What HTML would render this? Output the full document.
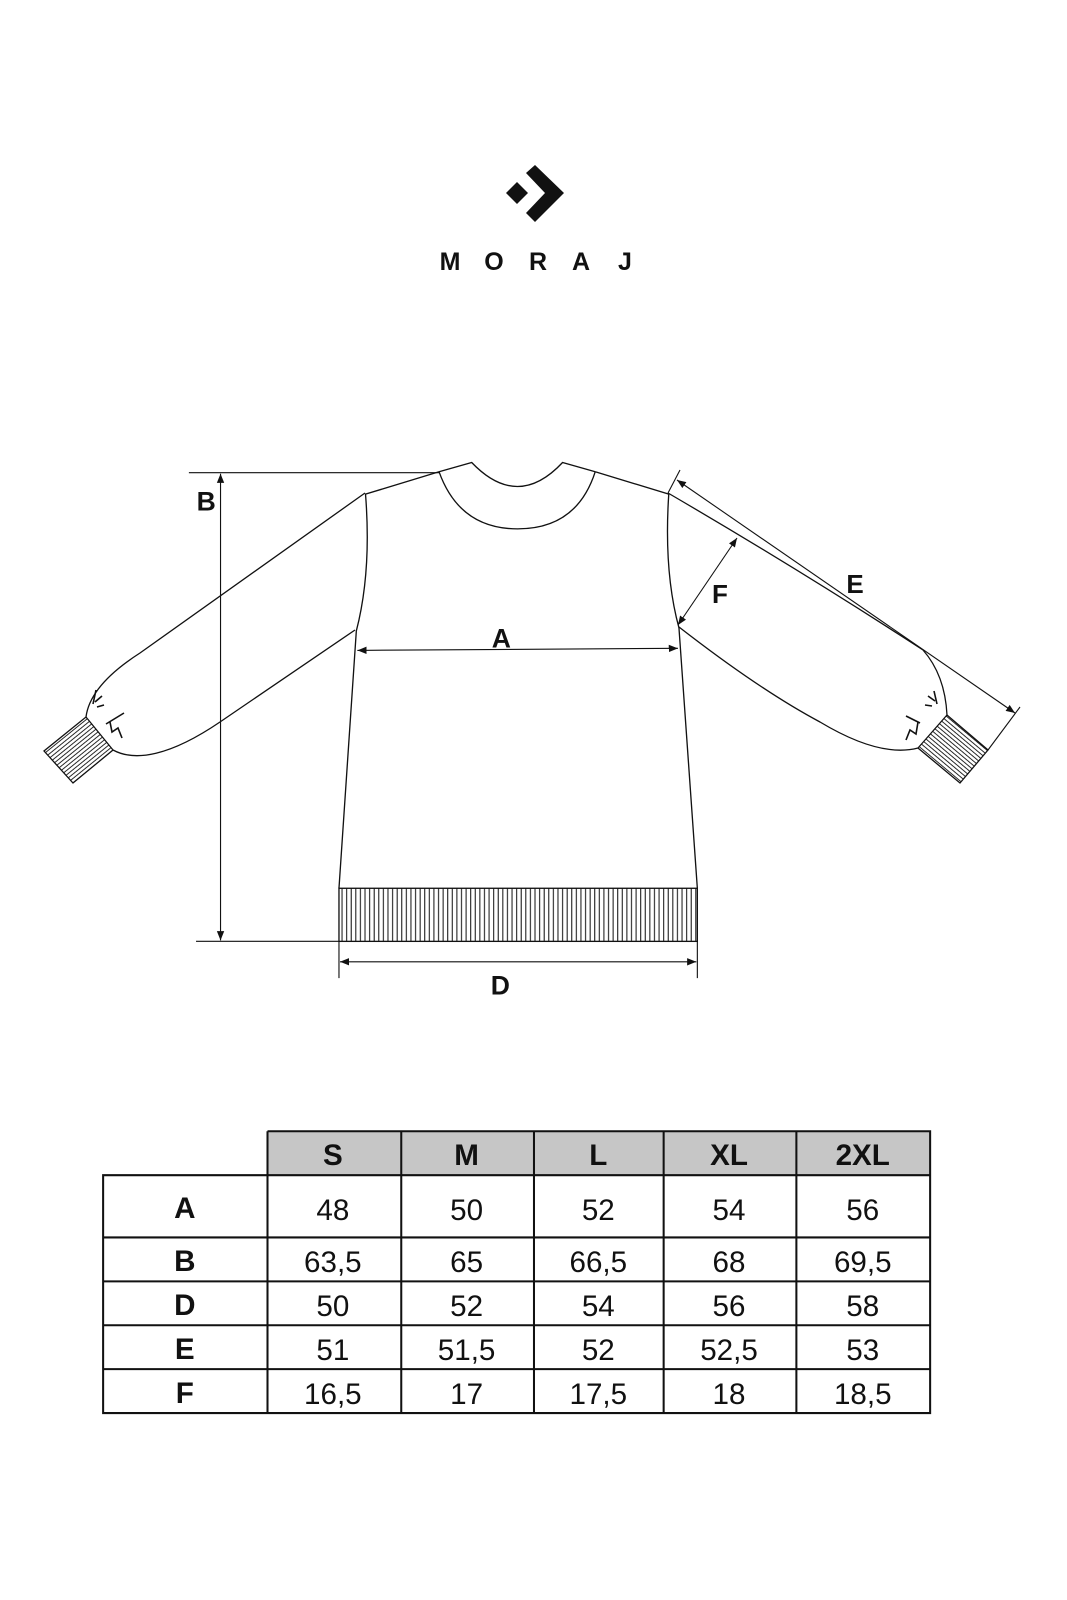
<!DOCTYPE html>
<html><head><meta charset="utf-8"><style>
html,body{margin:0;padding:0;background:#fff;}
svg{display:block;}
text{font-family:"Liberation Sans",Arial,sans-serif;}
</style></head><body>
<svg width="1067" height="1600" viewBox="0 0 1067 1600" xmlns="http://www.w3.org/2000/svg">
<defs>
<marker id="ar" viewBox="0 0 10 10" refX="10" refY="5" markerWidth="9" markerHeight="9" orient="auto-start-reverse" markerUnits="userSpaceOnUse"><path d="M0,1 L10,5 L0,9 Z" fill="#111"/></marker>
<pattern id="rib" width="4.5" height="10" patternUnits="userSpaceOnUse"><line x1="2" y1="0" x2="2" y2="10" stroke="#111" stroke-width="1"/></pattern>
<pattern id="ribL" width="10" height="3.4" patternUnits="userSpaceOnUse" patternTransform="rotate(-39)"><line x1="0" y1="1.5" x2="10" y2="1.5" stroke="#111" stroke-width="0.9"/></pattern>
<pattern id="ribR" width="10" height="3.4" patternUnits="userSpaceOnUse" patternTransform="rotate(40)"><line x1="0" y1="1.5" x2="10" y2="1.5" stroke="#111" stroke-width="0.9"/></pattern>
</defs>
<!-- logo -->
<polygon points="517,182 528,193 517,204 506,193" fill="#111"/>
<polygon points="535,165 564,193 535,222 526,213 545,193 526,173" fill="#111"/>
<g font-size="25" font-weight="bold" text-anchor="middle" fill="#111">
<text x="450" y="270">M</text><text x="494" y="270">O</text><text x="538" y="270">R</text><text x="581" y="270">A</text><text x="625" y="270">J</text>
</g>
<!-- sleeves (real coords) -->
<g fill="none" stroke="#111" stroke-width="1.3">
<path d="M365,493 L140,653 Q90,685 86,717"/>
<path d="M355,630 L220,722 C170,756 135,762 113,750"/>
<polygon points="86,717 113,750 73,783 44,751" fill="url(#ribL)"/>
<path d="M668,493 Q800,570 923,650 Q945,675 947,715"/>
<path d="M679,627 Q760,690 820,722 Q880,758 918,748"/>
<polygon points="918,748 947,715 988,750 960,783" fill="url(#ribR)"/>
</g>
<g stroke="#111" stroke-width="1.6" fill="none">
<path d="M93,704 L96,690 M95,702 L102,696 M97,707 L104,705"/>
<path d="M106,724 L124,713 M110,722 L112,732 L118,728 L122,738"/>
<path d="M937,704 L934,691 M935,701 L928,696 M932,706 L925,705"/>
<path d="M920,723 L906,716 M918,722 L916,734 L910,730 L906,740"/>
</g>
<!-- E / F dims (real coords) -->
<g stroke="#111" stroke-width="1.1" fill="none">
<line x1="668" y1="493" x2="680" y2="470"/>
<line x1="988" y1="750" x2="1020" y2="707"/>
<line x1="677" y1="480" x2="1015" y2="713" marker-start="url(#ar)" marker-end="url(#ar)"/>
<line x1="678" y1="625" x2="737" y2="538" marker-start="url(#ar)" marker-end="url(#ar)"/>
</g>
<g font-size="26" font-weight="bold" fill="#111" text-anchor="middle">
<text x="855" y="593">E</text>
<text x="720" y="603">F</text>
</g>
<!-- scaled group -->
<g transform="scale(1.021)">
<g fill="none" stroke="#111" stroke-width="1.3">
<path d="M430,462 L462,453 Q507,500 551,453 L583,462"/>
<path d="M430,462 Q450,518 507,518 Q565,518 583,462"/>
<path d="M430,462 L358,484 Q364,560 349,618 L332,870"/>
<path d="M583,462 L655,484 Q650,560 665,615 L683,870"/>
<rect x="332" y="870" width="351" height="52" fill="url(#rib)"/>
</g>
<g stroke="#111" stroke-width="1.1" fill="none">
<line x1="185" y1="463" x2="430" y2="463"/>
<line x1="192" y1="922" x2="332" y2="922"/>
<line x1="216" y1="464" x2="216" y2="921" marker-start="url(#ar)" marker-end="url(#ar)"/>
<line x1="350" y1="637" x2="664" y2="635" marker-start="url(#ar)" marker-end="url(#ar)"/>
<line x1="332" y1="922" x2="332" y2="958"/>
<line x1="683" y1="922" x2="683" y2="958"/>
<line x1="333" y1="942" x2="682" y2="942" marker-start="url(#ar)" marker-end="url(#ar)"/>
</g>
<g font-size="26" font-weight="bold" fill="#111" text-anchor="middle">
<text x="202" y="500">B</text>
<text x="491" y="634">A</text>
<text x="490" y="974">D</text>
</g>
<rect x="262" y="1108" width="649" height="43" fill="#c6c6c6"/>
<g stroke="#111" stroke-width="2" fill="none">
<path d="M262,1108 H911 V1384 H101 V1151 H911"/>
<path d="M262,1108 V1384 M393,1108 V1384 M523,1108 V1384 M650,1108 V1384 M780,1108 V1384"/>
<path d="M101,1212 H911 M101,1255 H911 M101,1298 H911 M101,1341 H911"/>
</g>
<g font-size="29" fill="#111" text-anchor="middle">
<g font-weight="bold">
<text x="326" y="1141">S</text><text x="457" y="1141">M</text><text x="586" y="1141">L</text><text x="714" y="1141">XL</text><text x="845" y="1141">2XL</text>
<text x="181" y="1193">A</text><text x="181" y="1245">B</text><text x="181" y="1288">D</text><text x="181" y="1331">E</text><text x="181" y="1374">F</text>
</g>
<text x="326" y="1195">48</text><text x="457" y="1195">50</text><text x="586" y="1195">52</text><text x="714" y="1195">54</text><text x="845" y="1195">56</text>
<text x="326" y="1246">63,5</text><text x="457" y="1246">65</text><text x="586" y="1246">66,5</text><text x="714" y="1246">68</text><text x="845" y="1246">69,5</text>
<text x="326" y="1289">50</text><text x="457" y="1289">52</text><text x="586" y="1289">54</text><text x="714" y="1289">56</text><text x="845" y="1289">58</text>
<text x="326" y="1332">51</text><text x="457" y="1332">51,5</text><text x="586" y="1332">52</text><text x="714" y="1332">52,5</text><text x="845" y="1332">53</text>
<text x="326" y="1375">16,5</text><text x="457" y="1375">17</text><text x="586" y="1375">17,5</text><text x="714" y="1375">18</text><text x="845" y="1375">18,5</text>
</g>
</g>
</svg>
</body></html>
